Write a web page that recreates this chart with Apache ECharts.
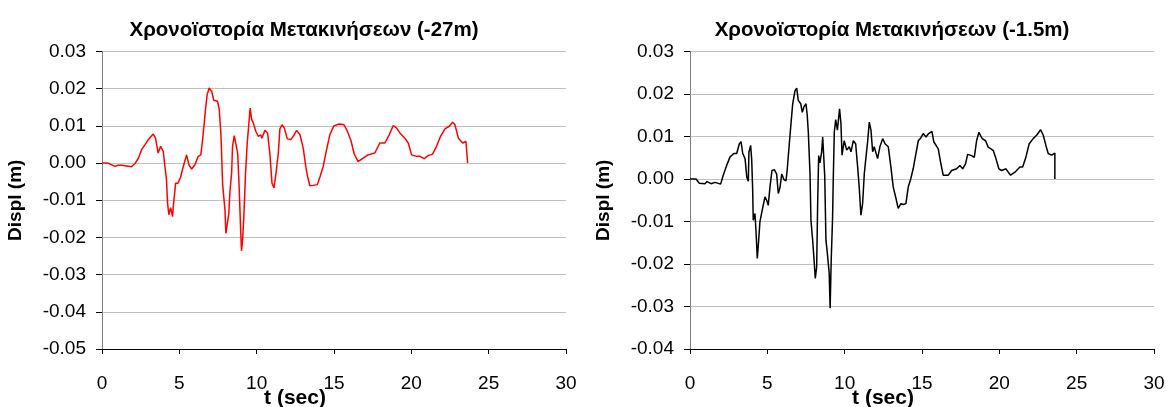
<!DOCTYPE html>
<html>
<head>
<meta charset="utf-8">
<script src="https://cdn.jsdelivr.net/npm/echarts@6/dist/echarts.min.js"></script>
<style>
html,body{margin:0;padding:0;background:#fff;}
#c{width:1166px;height:407px;}
</style>
</head>
<body>
<div id="c"></div>
<script>
const titleLeft = 'Χρονοϊστορία Μετακινήσεων (-27m)';
const titleRight = 'Χρονοϊστορία Μετακινήσεων (-1.5m)';
const xName = 't (sec)';
const yName = 'Displ (m)';

// Left chart: depth -27m (red)
const t27 = [0,0.39,0.84,1.05,1.27,1.6,1.9,2.12,2.35,2.56,2.77,2.99,3.31,3.46,3.63,3.79,3.96,4.02,4.17,4.24,4.32,4.44,4.56,4.63,4.76,4.91,5.08,5.2,5.32,5.47,5.62,5.79,6.0,6.22,6.39,6.48,6.61,6.7,6.8,6.93,7.09,7.23,7.47,7.58,7.69,7.8,7.95,8.01,8.12,8.2,8.27,8.38,8.44,8.55,8.66,8.77,8.87,8.96,9.02,9.09,9.17,9.28,9.39,9.5,9.58,9.67,9.78,9.95,10.1,10.26,10.34,10.53,10.71,10.86,10.99,11.12,11.25,11.4,11.5,11.64,11.79,11.98,12.2,12.37,12.58,12.8,13.01,13.19,13.29,13.44,13.66,13.92,14.1,14.3,14.52,14.73,14.99,15.34,15.64,15.85,16.1,16.3,16.56,16.88,17.2,17.64,17.96,18.29,18.57,18.83,19.05,19.26,19.58,19.8,20.02,20.34,20.56,20.83,21.09,21.37,21.63,21.89,22.17,22.45,22.67,22.82,23.04,23.32,23.53,23.64,23.64];
const d27 = [0,0,-0.0009,-0.0006,-0.0006,-0.0008,-0.001,-0.0002,0.0013,0.0036,0.0049,0.0063,0.0078,0.0067,0.0027,0.0045,0.0031,0.0008,-0.0045,-0.0108,-0.0139,-0.012,-0.0144,-0.0108,-0.0054,-0.0054,-0.0038,-0.0018,0,0.0022,-0.0005,-0.0016,-0.0005,0.0018,0.0022,0.0054,0.0108,0.0148,0.0184,0.0202,0.0193,0.0169,0.0166,0.0144,0.0076,-0.0058,-0.0126,-0.0189,-0.0186,-0.0135,-0.0077,-0.0027,0.0045,0.0074,0.0073,0.0027,-0.0067,-0.0175,-0.0236,-0.0207,-0.0144,-0.0027,0.0054,0.0108,0.0148,0.0118,0.0108,0.0085,0.0072,0.0076,0.0067,0.0088,0.008,0.0022,-0.0054,-0.0067,-0.0027,0.0027,0.0092,0.0103,0.0094,0.0065,0.0063,0.0072,0.0088,0.0076,0.004,-0.0013,-0.0036,-0.0061,-0.006,-0.0058,-0.0036,-0.0009,0.0036,0.0076,0.01,0.0105,0.0103,0.0087,0.006,0.0025,0.0004,0.0013,0.0022,0.0027,0.0054,0.0054,0.0076,0.0101,0.0094,0.0081,0.0067,0.0054,0.0022,0.0018,0.0018,0.0012,0.002,0.0024,0.0045,0.0072,0.0092,0.0099,0.011,0.0103,0.0067,0.0054,0.0058,0.006,0];

// Right chart: depth -1.5m (black)
const t15 = [0,0.39,0.6,0.97,1.1,1.36,1.62,1.98,2.15,2.37,2.59,2.84,3.02,3.19,3.3,3.41,3.56,3.67,3.77,3.81,3.92,3.99,4.05,4.09,4.2,4.27,4.35,4.44,4.52,4.67,4.85,4.96,5.06,5.17,5.3,5.45,5.6,5.71,5.82,5.93,6.08,6.21,6.29,6.42,6.51,6.64,6.79,6.9,7.0,7.16,7.26,7.37,7.5,7.58,7.65,7.76,7.82,7.93,8.03,8.1,8.19,8.25,8.32,8.4,8.51,8.58,8.66,8.71,8.79,8.88,9.0,9.06,9.13,9.22,9.26,9.33,9.42,9.53,9.67,9.76,9.83,9.97,10.13,10.3,10.41,10.56,10.71,10.84,10.94,11.05,11.16,11.27,11.38,11.49,11.59,11.7,11.81,11.91,12.02,12.13,12.28,12.46,12.61,12.82,12.99,13.14,13.32,13.46,13.64,13.79,13.96,14.11,14.27,14.43,14.59,14.76,14.91,15.08,15.26,15.43,15.64,15.77,16.05,16.21,16.37,16.7,16.92,17.24,17.45,17.63,17.82,17.95,18.21,18.38,18.53,18.68,18.79,18.89,19.11,19.28,19.46,19.61,19.78,19.97,20.15,20.43,20.58,20.73,21.01,21.33,21.51,21.72,21.93,22.19,22.41,22.67,22.84,23.01,23.16,23.38,23.59,23.59];
const d15 = [0,0,-0.001,-0.0011,-0.0006,-0.0011,-0.0008,-0.0012,0.0009,0.0032,0.0052,0.006,0.006,0.0083,0.0088,0.006,0.0048,0.0005,-0.0005,0.0063,0.0079,0.0045,-0.0023,-0.0097,-0.0081,-0.0124,-0.0187,-0.0144,-0.0101,-0.0073,-0.0042,-0.005,-0.0062,-0.0019,0.002,0.0022,0.0012,-0.0034,-0.002,0.0012,-0.0002,-0.0004,0.0024,0.0083,0.0122,0.0177,0.0208,0.0214,0.0185,0.0177,0.0157,0.017,0.0177,0.015,0.011,0.0012,-0.0097,-0.0144,-0.0195,-0.0234,-0.0207,-0.0066,0.0055,0.0038,0.0063,0.0099,0.0103,0.0008,-0.0144,-0.0175,-0.0222,-0.0304,-0.0191,-0.0089,-0.0005,0.011,0.014,0.0115,0.0165,0.013,0.0056,0.009,0.0068,0.0076,0.0064,0.009,0.0083,0.0028,-0.0019,-0.0085,-0.0058,0.0013,0.0052,0.009,0.0134,0.0115,0.0064,0.0076,0.008,0.0048,0.0076,0.0095,0.0083,0.0076,0.0028,-0.0019,-0.0046,-0.0069,-0.0058,-0.006,-0.0058,-0.0019,0,0.0024,0.0056,0.009,0.0096,0.0107,0.0099,0.0107,0.0112,0.0087,0.0071,0.0038,0.0009,0.0009,0.002,0.0024,0.0032,0.0024,0.0036,0.0058,0.0055,0.0051,0.009,0.011,0.0112,0.0095,0.009,0.0075,0.0071,0.0067,0.0048,0.0024,0.002,0.0024,0.0016,0.0009,0.0016,0.0028,0.0028,0.0052,0.0083,0.0095,0.0103,0.0116,0.0103,0.0079,0.006,0.0056,0.0061,0];

const xTicks = [0,5,10,15,20,25,30];
const yTicksLeft = [-0.05,-0.04,-0.03,-0.02,-0.01,0,0.01,0.02,0.03];
const yTicksRight = [-0.04,-0.03,-0.02,-0.01,0,0.01,0.02,0.03];

const FONT = 'Liberation Sans, Arial, sans-serif';

function pairs(t, d){ return t.map((v,i)=>[v,d[i]]); }

function xAxisCfg(gi){
  return {
    gridIndex: gi, type: 'value',
    min: xTicks[0], max: xTicks[xTicks.length-1], interval: xTicks[1]-xTicks[0],
    name: xName, nameLocation: 'middle', nameGap: 39, nameMoveOverlap: false,
    nameTextStyle: {fontFamily: FONT, fontSize: 21, fontWeight: 'bold', color: '#000', padding: [0, 78, 0, 0]},
    axisLine: {show: true, onZero: false, lineStyle: {color: '#000', width: 1}},
    axisTick: {show: true, inside: false, length: 5, lineStyle: {color: '#000'}},
    axisLabel: {fontFamily: FONT, fontSize: 19, color: '#000', margin: 25},
    splitLine: {show: false}
  };
}
function yAxisCfg(gi, ticks){
  return {
    gridIndex: gi, type: 'value',
    min: ticks[0], max: ticks[ticks.length-1], interval: 0.01,
    name: yName, nameLocation: 'middle', nameGap: 77, nameRotate: 90, nameMoveOverlap: false,
    nameTextStyle: {fontFamily: FONT, fontSize: 19, fontWeight: 'bold', color: '#000'},
    axisLine: {show: true, lineStyle: {color: '#808080', width: 1}},
    axisTick: {show: true, inside: false, length: 6, lineStyle: {color: '#000'}},
    axisLabel: {fontFamily: FONT, fontSize: 19, color: '#000', margin: 16,
      formatter: v => (Math.abs(v) < 1e-9 ? 0 : v).toFixed(2)},
    splitLine: {show: true, lineStyle: {color: '#c0c0c0', width: 1}}
  };
}

const chart = echarts.init(document.getElementById('c'), null, {renderer: 'canvas'});
chart.setOption({
  backgroundColor: '#fff',
  animation: false,
  title: [
    {text: titleLeft, left: 299, top: 15, textAlign: 'center',
     textStyle: {fontFamily: FONT, fontSize: 20.5, fontWeight: 'bold', color: '#000'}},
    {text: titleRight, left: 887, top: 15, textAlign: 'center',
     textStyle: {fontFamily: FONT, fontSize: 20.5, fontWeight: 'bold', color: '#000'}}
  ],
  grid: [
    {left: 102, top: 51.5, width: 464, height: 297.5, containLabel: false, outerBoundsMode: 'none'},
    {left: 690, top: 51.5, width: 464, height: 297.5, containLabel: false, outerBoundsMode: 'none'}
  ],
  xAxis: [xAxisCfg(0), xAxisCfg(1)],
  yAxis: [yAxisCfg(0, yTicksLeft), yAxisCfg(1, yTicksRight)],
  series: [
    {type: 'line', xAxisIndex: 0, yAxisIndex: 0, data: pairs(t27, d27), showSymbol: false,
     lineStyle: {color: '#ff0000', width: 1.5}, itemStyle: {color: '#ff0000'}},
    {type: 'line', xAxisIndex: 1, yAxisIndex: 1, data: pairs(t15, d15), showSymbol: false,
     lineStyle: {color: '#000000', width: 1.5}, itemStyle: {color: '#000'}}
  ]
});
</script>
</body>
</html>
